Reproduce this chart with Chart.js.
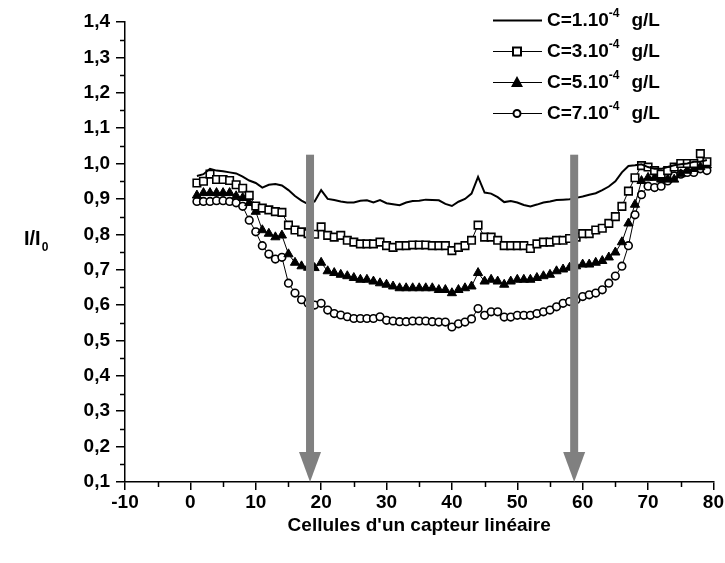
<!DOCTYPE html>
<html>
<head>
<meta charset="utf-8">
<script src="https://cdn.jsdelivr.net/npm/chart.js@4.4.0/dist/chart.umd.min.js"></script>
<style>
html,body{margin:0;padding:0;background:#fff;}
</style>
</head>
<body>
<canvas id="chart" width="725" height="563"></canvas>
<script>
// cell index on the linear sensor
const cells = [1,2,3,4,5,6,7,8,9,10,11,12,13,14,15,16,17,18,19,20,
  21,22,23,24,25,26,27,28,29,30,31,32,33,34,35,36,37,38,39,40,
  41,42,43,44,45,46,47,48,49,50,51,52,53,54,55,56,57,58,59,60,
  61,62,63,64,65,66,67,68,69,70,71,72,73,74,75,76,77,78,79];

// I/I0 for each concentration
const c1 = [0.965,0.97,0.985,0.98,0.978,0.975,0.972,0.963,0.952,0.945,
  0.932,0.94,0.942,0.938,0.925,0.908,0.895,0.885,0.893,0.925,
  0.9,0.897,0.893,0.89,0.89,0.895,0.896,0.89,0.897,0.888,
  0.885,0.882,0.89,0.894,0.895,0.898,0.897,0.896,0.886,0.88,
  0.892,0.9,0.915,0.962,0.918,0.915,0.905,0.891,0.894,0.89,
  0.883,0.879,0.884,0.89,0.893,0.897,0.898,0.899,0.903,0.907,
  0.912,0.916,0.925,0.935,0.95,0.975,0.993,0.995,0.998,0.99,
  0.985,0.985,0.99,0.995,0.998,1.0,1.005,1.005,1.01];
const c3 = [0.945,0.95,0.97,0.955,0.955,0.952,0.94,0.93,0.91,0.88,
  0.874,0.869,0.864,0.862,0.826,0.812,0.807,0.802,0.8,0.821,
  0.797,0.792,0.797,0.783,0.778,0.773,0.773,0.773,0.778,0.768,
  0.763,0.768,0.768,0.77,0.77,0.77,0.768,0.768,0.768,0.754,
  0.763,0.768,0.783,0.826,0.792,0.792,0.783,0.768,0.768,0.768,
  0.768,0.76,0.773,0.778,0.778,0.783,0.783,0.788,0.792,0.802,
  0.802,0.812,0.817,0.831,0.85,0.879,0.922,0.96,0.994,0.99,
  0.98,0.97,0.98,0.99,1.0,1.0,1.0,1.028,1.005];
const c5 = [0.91,0.917,0.917,0.917,0.917,0.917,0.908,0.903,0.889,0.864,
  0.812,0.802,0.792,0.797,0.744,0.72,0.71,0.706,0.705,0.72,
  0.696,0.691,0.686,0.682,0.677,0.672,0.672,0.667,0.662,0.658,
  0.653,0.648,0.648,0.648,0.648,0.648,0.648,0.643,0.643,0.634,
  0.643,0.648,0.653,0.691,0.667,0.672,0.667,0.658,0.667,0.672,
  0.672,0.672,0.677,0.682,0.686,0.696,0.701,0.706,0.71,0.715,
  0.715,0.72,0.725,0.735,0.749,0.778,0.831,0.884,0.951,0.96,
  0.96,0.955,0.955,0.955,0.97,0.98,0.985,0.99,0.995];
const c7 = [0.893,0.893,0.893,0.895,0.895,0.893,0.889,0.879,0.84,0.807,
  0.768,0.744,0.73,0.735,0.662,0.634,0.615,0.605,0.6,0.605,
  0.586,0.576,0.572,0.567,0.562,0.562,0.562,0.562,0.567,0.557,
  0.555,0.553,0.553,0.555,0.555,0.555,0.553,0.552,0.552,0.538,
  0.547,0.552,0.561,0.59,0.571,0.581,0.581,0.566,0.566,0.571,
  0.571,0.571,0.576,0.581,0.586,0.595,0.605,0.61,0.615,0.624,
  0.629,0.634,0.643,0.662,0.682,0.71,0.768,0.855,0.912,0.936,
  0.932,0.936,0.951,0.965,0.97,0.975,0.975,0.985,0.98];

const legendBase = ['C=1.10', 'C=3.10', 'C=5.10', 'C=7.10'];
const legendExp = '-4';
const legendUnit = 'g/L';

// grey arrows marking the useful zone
const arrowCells = [18.3, 58.7];
const arrowTop = 1.025;

const xTicks = [-10, 80, 10];
const yTicks = [0.1, 1.4, 0.1];

function pts(ys) { return cells.map((x, i) => ({ x: x, y: ys[i] })); }

const FONT = "'Liberation Sans', Arial, sans-serif";

const datasets = [
  { data: pts(c1), borderColor: '#000', borderWidth: 2, pointRadius: 0, legendStyle: false },
  { data: pts(c3), borderColor: '#000', borderWidth: 1, pointStyle: 'rect', pointRadius: 5.3,
    pointBackgroundColor: '#fff', pointBorderColor: '#000', pointBorderWidth: 1.6, legendStyle: 'rect' },
  { data: pts(c5), borderColor: '#000', borderWidth: 1, pointStyle: 'triangle', pointRadius: 5.3,
    pointBackgroundColor: '#000', pointBorderColor: '#000', pointBorderWidth: 1, legendStyle: 'triangle' },
  { data: pts(c7), borderColor: '#000', borderWidth: 1, pointStyle: 'circle', pointRadius: 3.8,
    pointBackgroundColor: '#fff', pointBorderColor: '#000', pointBorderWidth: 1.6, legendStyle: 'circle' }
];

const extras = {
  id: 'extras',
  afterDatasetsDraw(chart) {
    const ctx = chart.ctx, xs = chart.scales.x, ys = chart.scales.y;
    ctx.save();
    ctx.fillStyle = '#808080';
    const tipY = ys.getPixelForValue(yTicks[0]);
    const topY = ys.getPixelForValue(arrowTop);
    arrowCells.forEach(c => {
      const px = xs.getPixelForValue(c);
      ctx.fillRect(px - 4, topY, 8, tipY - 30 - topY + 1);
      ctx.beginPath();
      ctx.moveTo(px - 11, tipY - 30);
      ctx.lineTo(px + 11, tipY - 30);
      ctx.lineTo(px, tipY);
      ctx.closePath();
      ctx.fill();
    });
    ctx.restore();
  },
  afterDraw(chart) {
    const ctx = chart.ctx, xs = chart.scales.x, ys = chart.scales.y;
    const a = chart.chartArea;
    ctx.save();
    // minor ticks
    ctx.strokeStyle = '#000';
    ctx.lineWidth = 1.5;
    ctx.beginPath();
    for (let v = xTicks[0] + xTicks[2] / 2; v < xTicks[1]; v += xTicks[2]) {
      const px = Math.round(xs.getPixelForValue(v)) + 0.5;
      ctx.moveTo(px, a.bottom);
      ctx.lineTo(px, a.bottom + 5);
    }
    for (let k = 0; k < 13; k++) {
      const py = Math.round(ys.getPixelForValue(0.15 + k * 0.1)) + 0.5;
      ctx.moveTo(a.left, py);
      ctx.lineTo(a.left - 5, py);
    }
    ctx.stroke();

    // y title I/I0
    ctx.fillStyle = '#000';
    ctx.textBaseline = 'middle';
    ctx.font = 'bold 20px ' + FONT;
    ctx.fillText('I/I', 24, 239);
    const w = ctx.measureText('I/I').width;
    ctx.font = 'bold 12px ' + FONT;
    ctx.fillText('0', 24 + w + 1, 248);

    // legend
    const rows = [20, 51, 82, 113];
    chart.data.datasets.forEach((ds, i) => {
      const y = rows[i];
      ctx.strokeStyle = '#000';
      ctx.lineWidth = i === 0 ? 2 : 1.2;
      ctx.beginPath();
      ctx.moveTo(493, y + 0.5);
      ctx.lineTo(542, y + 0.5);
      ctx.stroke();
      if (ds.legendStyle === 'rect') {
        ctx.fillStyle = '#fff';
        ctx.fillRect(513, y - 3.5, 8, 8);
        ctx.lineWidth = 2;
        ctx.strokeRect(513, y - 3.5, 8, 8);
      } else if (ds.legendStyle === 'triangle') {
        ctx.fillStyle = '#000';
        ctx.beginPath();
        ctx.moveTo(517, y - 6);
        ctx.lineTo(523, y + 5);
        ctx.lineTo(511, y + 5);
        ctx.closePath();
        ctx.fill();
      } else if (ds.legendStyle === 'circle') {
        ctx.fillStyle = '#fff';
        ctx.beginPath();
        ctx.arc(517, y + 0.5, 3.5, 0, Math.PI * 2);
        ctx.fill();
        ctx.lineWidth = 2;
        ctx.stroke();
      }
      ctx.fillStyle = '#000';
      ctx.font = 'bold 19px ' + FONT;
      ctx.fillText(legendBase[i], 547, y + 1);
      const bw = ctx.measureText(legendBase[i]).width;
      ctx.font = 'bold 12px ' + FONT;
      ctx.fillText(legendExp, 547 + bw, y - 6);
      const ew = ctx.measureText(legendExp).width;
      ctx.font = 'bold 19px ' + FONT;
      ctx.fillText(legendUnit, 547 + bw + ew + 12, y + 1);
    });
    ctx.restore();
  }
};

new Chart(document.getElementById('chart'), {
  type: 'line',
  data: { datasets: datasets },
  options: {
    responsive: false,
    animation: false,
    devicePixelRatio: 1,
    layout: { padding: { left: 0, right: 3, top: 22, bottom: 0 } },
    plugins: { legend: { display: false }, tooltip: { enabled: false } },
    scales: {
      x: {
        type: 'linear',
        min: xTicks[0], max: xTicks[1],
        afterFit: s => { s.height = 81; },
        ticks: { stepSize: xTicks[2], color: '#000', padding: 1,
          font: { family: FONT, size: 19, weight: 'bold' } },
        grid: { drawOnChartArea: false, tickLength: 8, color: '#000', lineWidth: 1.5 },
        border: { display: true, color: '#000', width: 1.5 },
        title: { display: true, text: "Cellules d'un capteur linéaire", color: '#000',
          font: { family: FONT, size: 19, weight: 'bold' }, padding: { top: 4, bottom: 26 } }
      },
      y: {
        type: 'linear',
        min: yTicks[0], max: yTicks[1],
        afterFit: s => { s.width = 125; },
        ticks: { stepSize: yTicks[2], color: '#000', padding: 6,
          font: { family: FONT, size: 19, weight: 'bold' },
          callback: v => v.toFixed(1).replace('.', ',') },
        grid: { drawOnChartArea: false, tickLength: 9, color: '#000', lineWidth: 1.5 },
        border: { display: true, color: '#000', width: 1.5 }
      }
    }
  },
  plugins: [extras]
});
</script>
</body>
</html>
